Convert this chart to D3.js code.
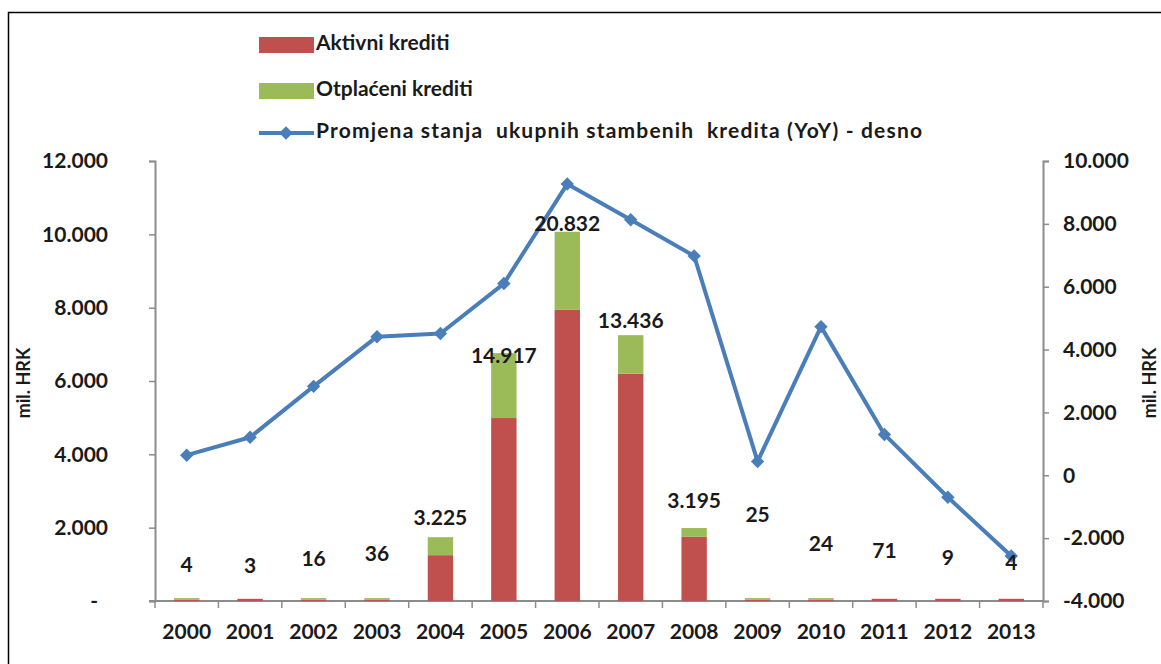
<!DOCTYPE html>
<html>
<head>
<meta charset="utf-8">
<script src="https://cdn.jsdelivr.net/npm/d3@7"></script>
<style>
  body { margin: 0; background: #fff; }
  svg text { font-family: Lato, "Open Sans", sans-serif; fill: #1a1a1a; font-weight: bold; }
</style>
</head>
<body>
<div id="chart"></div>
<script>
// Years on the x axis
const years = ["2000", "2001", "2002", "2003", "2004", "2005", "2006",
  "2007", "2008", "2009", "2010", "2011", "2012", "2013"];

// Stacked bars, mil. HRK (left axis)
const aktivni = [40, 60, 40, 40, 1250, 4990, 7940, 6200, 1750, 40, 40, 60, 60, 60];
const otplaceni = [40, 0, 40, 40, 490, 1770, 2130, 1050, 240, 40, 40, 0, 0, 0];

// YoY change of total housing loans, mil. HRK (right axis)
const promjena = [640, 1210, 2830, 4410, 4510, 6100, 9270, 8130, 6980, 440, 4730, 1300, -700, -2570];

// Data labels and the height they sit at (left axis units)
const labelText = ["4", "3", "16", "36", "3.225", "14.917", "20.832", "13.436", "3.195", "25", "24", "71", "9", "4"];
const labelAt = [930, 900, 1090, 1230, 2210, 6650, 10250, 7580, 2670, 2290, 1500, 1310, 1120, 980];

const leftTicks = [0, 2000, 4000, 6000, 8000, 10000, 12000];
const rightTicks = [-4000, -2000, 0, 2000, 4000, 6000, 8000, 10000];

const legendItems = ["Aktivni krediti", "Otplaćeni krediti",
  "Promjena stanja  ukupnih stambenih  kredita (YoY) - desno"];

const colors = { red: "#C0504D", green: "#9BBB59", blue: "#4A7EBB", axis: "#8c8c8c" };

const W = 1161, H = 664;
const plot = { left: 155, right: 1043, top: 161, bottom: 601 };

const hr = d3.formatLocale({ decimal: ",", thousands: ".", grouping: [3], currency: ["", ""], minus: "-" });
const fmt = hr.format(",.0f");

const svg = d3.select("#chart").append("svg")
  .attr("width", W).attr("height", H);

// outer frame (right and bottom edges fall outside the picture)
svg.append("rect")
  .attr("x", 8.5).attr("y", 12.5)
  .attr("width", W + 20).attr("height", H + 20)
  .attr("fill", "none").attr("stroke", "#000").attr("stroke-width", 1.5);

const x = d3.scaleBand().domain(years)
  .range([plot.left, plot.right])
  .paddingInner(0.6).paddingOuter(0.3);

const yL = d3.scaleLinear().domain([0, 12000]).range([plot.bottom, plot.top]);
const yR = d3.scaleLinear().domain([-4000, 10000]).range([plot.bottom, plot.top]);

const tickFont = "21px";

// left axis
const axL = svg.append("g").attr("transform", `translate(${plot.left},0)`)
  .call(d3.axisLeft(yL).tickValues(leftTicks).tickSize(6).tickPadding(41)
    .tickFormat(d => d === 0 ? "-" : fmt(d)));
axL.select(".domain").attr("stroke", colors.axis).attr("stroke-width", 2);
axL.selectAll(".tick line").attr("stroke", colors.axis).attr("stroke-width", 1.5);
axL.selectAll("text").style("font-size", tickFont).style("font-family", "Lato, sans-serif")
  .attr("fill", "#1a1a1a");
axL.selectAll(".tick text").filter(d => d === 0).attr("x", -57);

// right axis
const axR = svg.append("g").attr("transform", `translate(${plot.right},0)`)
  .call(d3.axisRight(yR).tickValues(rightTicks).tickSize(6).tickPadding(14)
    .tickFormat(d => fmt(d)));
axR.select(".domain").attr("stroke", colors.axis).attr("stroke-width", 2);
axR.selectAll(".tick line").attr("stroke", colors.axis).attr("stroke-width", 1.5);
axR.selectAll("text").style("font-size", tickFont).style("font-family", "Lato, sans-serif")
  .attr("fill", "#1a1a1a");

// x axis line and boundary ticks
svg.append("line")
  .attr("x1", plot.left - 6).attr("x2", plot.right)
  .attr("y1", plot.bottom).attr("y2", plot.bottom)
  .attr("stroke", colors.axis).attr("stroke-width", 2);
const step = x.step();
svg.selectAll(".xtick").data(d3.range(years.length + 1)).join("line")
  .attr("class", "xtick")
  .attr("x1", i => plot.left + i * step).attr("x2", i => plot.left + i * step)
  .attr("y1", plot.bottom).attr("y2", plot.bottom + 7)
  .attr("stroke", colors.axis).attr("stroke-width", 1.5);
svg.selectAll(".xlabel").data(years).join("text")
  .attr("class", "xlabel")
  .attr("x", d => x(d) + x.bandwidth() / 2).attr("y", 634)
  .attr("text-anchor", "middle").attr("dominant-baseline", "middle")
  .style("font-size", tickFont).text(d => d);

// axis titles
svg.append("text")
  .attr("transform", "translate(25,383) rotate(-90)")
  .attr("text-anchor", "middle").attr("dominant-baseline", "middle")
  .style("font-size", "18px").text("mil. HRK");
svg.append("text")
  .attr("transform", "translate(1151,383) rotate(-90)")
  .attr("text-anchor", "middle").attr("dominant-baseline", "middle")
  .style("font-size", "18px").text("mil. HRK");

// stacked bars
const stackRows = years.map((yr, i) => ({ year: yr, aktivni: aktivni[i], otplaceni: otplaceni[i] }));
const series = d3.stack().keys(["aktivni", "otplaceni"])(stackRows);
const fills = { aktivni: colors.red, otplaceni: colors.green };
svg.append("g").selectAll("g").data(series).join("g")
  .attr("fill", s => fills[s.key])
  .selectAll("rect").data(s => s).join("rect")
  .attr("x", d => x(d.data.year))
  .attr("width", x.bandwidth())
  .attr("y", d => yL(d[1]))
  .attr("height", d => yL(d[0]) - yL(d[1]));

// line on the right axis
const pts = years.map((yr, i) => [x(yr) + x.bandwidth() / 2, yR(promjena[i])]);
svg.append("path")
  .datum(pts)
  .attr("d", d3.line())
  .attr("fill", "none").attr("stroke", colors.blue)
  .attr("stroke-width", 4).attr("stroke-linejoin", "round");
const diamond = d3.symbol(d3.symbolSquare, 90);
svg.selectAll(".marker").data(pts).join("path")
  .attr("class", "marker")
  .attr("d", diamond)
  .attr("transform", p => `translate(${p[0]},${p[1]}) rotate(45)`)
  .attr("fill", colors.blue);

// data labels
svg.selectAll(".dlabel").data(years).join("text")
  .attr("class", "dlabel")
  .attr("x", d => x(d) + x.bandwidth() / 2)
  .attr("y", (d, i) => yL(labelAt[i]))
  .attr("text-anchor", "middle").attr("dominant-baseline", "middle")
  .style("font-size", tickFont).text((d, i) => labelText[i]);

// legend
const lg = svg.append("g");
const lgY = [45, 91, 133];
lg.append("rect").attr("x", 259).attr("y", lgY[0] - 8).attr("width", 55).attr("height", 16)
  .attr("fill", colors.red);
lg.append("rect").attr("x", 259).attr("y", lgY[1] - 8).attr("width", 55).attr("height", 16)
  .attr("fill", colors.green);
lg.append("line").attr("x1", 259).attr("x2", 314).attr("y1", lgY[2]).attr("y2", lgY[2])
  .attr("stroke", colors.blue).attr("stroke-width", 4);
lg.append("path").attr("d", diamond)
  .attr("transform", `translate(286,${lgY[2]}) rotate(45)`)
  .attr("fill", colors.blue);
lg.selectAll("text").data(legendItems).join("text")
  .attr("x", 316).attr("y", (d, i) => lgY[i])
  .attr("dominant-baseline", "middle")
  .style("font-size", "21px").style("white-space", "pre")
  .attr("textLength", (d, i) => i === 2 ? 606 : null)
  .attr("lengthAdjust", "spacing")
  .text(d => d);
</script>
</body>
</html>
